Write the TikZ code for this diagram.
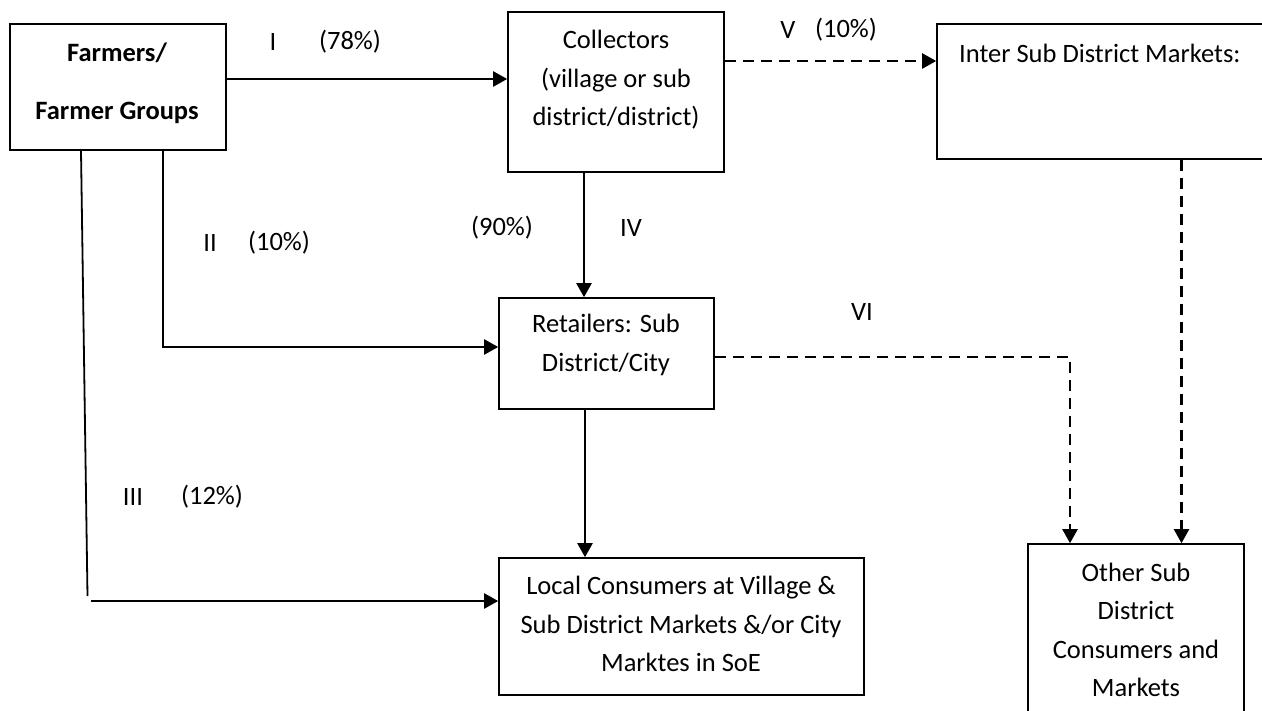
\documentclass[tikz,border=0pt]{standalone}
\usepackage{fontspec}
\setmainfont{Carlito}
\usetikzlibrary{arrows.meta}
\tikzset{
  x=1pt, y=-1pt,
  box/.style={draw, line width=1.6pt, inner sep=0pt, anchor=center},
  txt/.style={inner sep=0pt, align=center, font=\fontsize{26.5}{38.5}\selectfont},
  btxt/.style={inner sep=0pt, font=\fontsize{26.5}{38.5}\selectfont\bfseries},
  lbl/.style={inner sep=0pt, font=\fontsize{26.5}{30}\selectfont},
  arr/.style={line width=2.2pt, -{Triangle[length=14pt,width=15pt]}},
  plain/.style={line width=1.8pt},
  darr/.style={line width=2.2pt, dash pattern=on 11pt off 7pt, -{Triangle[length=14pt,width=15pt]}}
}
\begin{document}
\begin{tikzpicture}
\clip (0,0) rectangle (1262,711);
\fill[white] (0,0) rectangle (1262,711);

% boxes
\node[box, minimum width=216pt, minimum height=126pt] (farmers) at (118,87) {};
\node[box, minimum width=216pt, minimum height=160pt] (collectors) at (616,92) {};
\node[box, minimum width=338pt, minimum height=135pt] (inter) at (1106,91.5) {};
\node[box, minimum width=215pt, minimum height=111pt] (retailers) at (606.5,353.5) {};
\node[box, minimum width=365pt, minimum height=137pt] (local) at (681.5,626.5) {};
\node[box, minimum width=216pt, minimum height=181pt] (other) at (1136,634.5) {};

% box texts
\node[btxt] (farmersA) at (117,53) {Farmers/};
\node[btxt] (farmersB) at (117,113) {Farmer Groups};
\node[txt] (collectorsT) at (616,80) {Collectors\\(village or sub\\district/district)};
\node[txt, anchor=west] (interT) at (959,53) {Inter Sub District Markets:};
\node[txt] (retailersT) at (606,345) {Retailers: Sub\\District/City};
\node[txt] (localT) at (681,624) {Local Consumers at Village \&\\Sub District Markets \&/or City\\Marktes in SoE};
\node[txt] (otherT) at (1136,630) {Other Sub\\District\\Consumers and\\Markets};

% labels
\node[lbl] (l1a) at (273,42) {I};
\node[lbl] (l1b) at (350,42) {(78\%)};
\node[lbl] (l5a) at (788,30) {V};
\node[lbl] (l5b) at (846,30) {(10\%)};
\node[lbl] (l4a) at (502,228) {(90\%)};
\node[lbl] (l4b) at (631,228) {IV};
\node[lbl] (l2a) at (210,243) {II};
\node[lbl] (l2b) at (279,243) {(10\%)};
\node[lbl] (l3a) at (133,497) {III};
\node[lbl] (l3b) at (212,497) {(12\%)};
\node[lbl] (l6) at (862,312) {VI};

% connector helper points
\coordinate (pI) at ([yshift=8pt]farmers.east);
\coordinate (pV) at ([yshift=31pt]collectors.east);
\coordinate (pIV) at ([xshift=-32pt]collectors.south);
\coordinate (pII) at ([xshift=45pt]farmers.south);
\coordinate (pIIIa) at ([xshift=-37pt]farmers.south);
\coordinate (pIIIb) at (87.5,596);
\coordinate (pIIIc) at (91,601);
\coordinate (pR) at ([xshift=-21.5pt]retailers.south);
\coordinate (pVI) at ([yshift=-3.5pt]retailers.east);
\coordinate (pVIdown) at ([xshift=-66pt]other.north);
\coordinate (pInter) at ([xshift=75.5pt]inter.south);

% connectors
\draw[arr] (pI) -- (pI -| collectors.west);
\draw[darr] (pV) -- (pV -| inter.west);
\draw[arr] (pIV) -- (pIV |- retailers.north);
\draw[arr] (pII) |- ([yshift=6.5pt]retailers.west);
\draw[plain] (pIIIa) -- (pIIIb);
\draw[arr] (pIIIc) -- (pIIIc -| local.west);
\draw[arr] (pR) -- (pR |- local.north);
\draw[darr] (pVI) -| (pVIdown);
\draw[darr] (pInter) -- (pInter |- other.north);
\end{tikzpicture}
\end{document}
